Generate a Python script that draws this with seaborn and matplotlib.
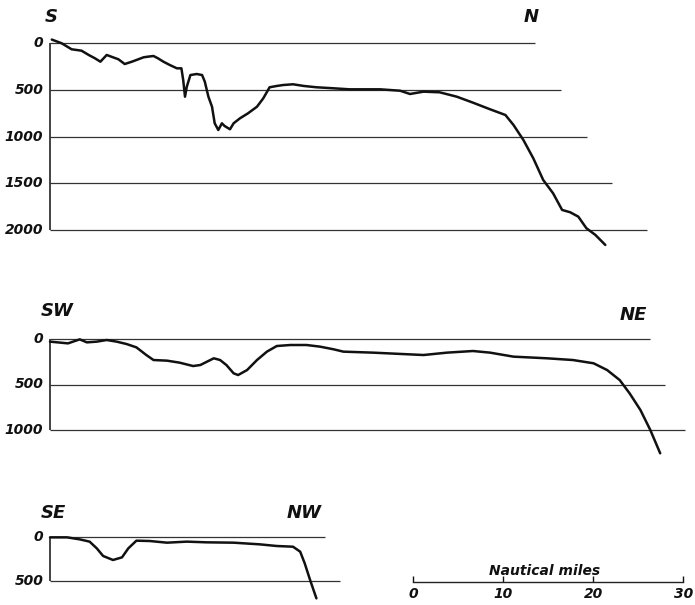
import matplotlib
matplotlib.use("Agg")
import matplotlib.pyplot as plt
import seaborn as sns
import pandas as pd

sns.set_theme(style="white")
plt.rcParams["font.family"] = ["DejaVu Sans"]

# ---------------- data (nautical miles, depth in metres) ----------------
# Profile S - N
p1_miles = [0.2, 1.3, 2.4, 3.5, 4.3, 5.0, 5.6, 6.3, 7.0, 7.6, 8.3, 9.1, 9.6, 10.4, 10.9,
            11.5, 12.0, 12.6, 13.3, 14.1, 14.6, 14.8, 15.0, 15.2, 15.6, 16.3, 16.9, 17.2,
            17.6, 18.0, 18.3, 18.7, 19.1, 19.4, 20.0, 20.4, 21.1, 22.0, 23.0, 23.7, 24.4,
            25.2, 25.9, 27.0, 28.2, 29.6, 31.5, 33.3, 36.7, 38.9, 40.0, 41.5, 43.3, 45.2,
            47.0, 48.9, 50.6, 51.5, 52.6, 53.7, 54.8, 55.9, 56.9, 57.8, 58.7, 59.6, 60.6, 61.7]
p1_depth = [-40, 0, 64, 79, 125, 161, 197, 125, 150, 171, 222, 197, 179, 150, 143,
            136, 161, 197, 232, 268, 268, 393, 572, 465, 340, 329, 340, 411,
            572, 679, 857, 929, 857, 886, 921, 857, 804, 750, 679, 589, 471,
            457, 447, 439, 457, 471, 482, 493, 493, 508, 543, 518, 525, 572,
            636, 707, 768, 875, 1036, 1232, 1464, 1607, 1785, 1810, 1857, 1981, 2053, 2160]
p1_levels = [0, 500, 1000, 1500, 2000]
p1_level_ends = [53.9, 56.8, 59.7, 62.4, 66.3]

# Profile SW - NE
p2_miles = [0, 2.0, 3.3, 4.1, 5.2, 6.3, 7.4, 8.5, 9.6, 10.7, 11.5, 13.0, 14.4, 15.9, 16.7,
            18.2, 18.9, 19.6, 20.4, 20.9, 21.9, 23.0, 24.1, 25.2, 26.7, 28.5, 30.0, 31.5,
            32.6, 35.9, 41.5, 44.1, 47.0, 48.9, 51.5, 55.2, 58.1, 60.4, 61.9, 63.3, 64.4,
            65.6, 66.7, 67.8]
p2_depth = [29, 48, 4, 37, 29, 11, 29, 55, 92, 176, 231, 238, 260, 297, 286,
            212, 231, 286, 377, 396, 341, 231, 139, 77, 66, 66, 84, 113,
            139, 150, 176, 150, 132, 150, 194, 212, 231, 267, 341, 451, 597,
            780, 1000, 1256]
p2_levels = [0, 500, 1000]
p2_level_ends = [66.7, 68.3, 70.6]

# Profile SE - NW
p3_miles = [0, 1.9, 3.3, 4.4, 5.2, 5.9, 7.0, 8.0, 8.7, 9.6, 11.1, 13.0, 15.2, 17.4,
            20.4, 23.3, 25.2, 27.0, 27.8, 28.3, 28.9, 29.6]
p3_depth = [4, 4, 27, 53, 130, 217, 263, 233, 130, 42, 46, 65, 53, 61,
            65, 84, 103, 111, 168, 301, 492, 702]
p3_levels = [0, 500]
p3_level_ends = [30.6, 32.2]

scale_ticks = [0, 10, 20, 30]
scale_label = "Nautical miles"

# ---------------- layout ----------------
W, H = 695, 605
PX_PER_MILE = 9.0
X0_PX = 50.0

fig = plt.figure(figsize=(W / 100, H / 100), dpi=100)
fig.patch.set_facecolor("white")

LBL = dict(fontstyle="italic", fontweight="bold", color="#111111")


def panel_axes(top, bottom, y0, py_per_m):
    ax = fig.add_axes([0, 1 - bottom / H, 1, (bottom - top) / H])
    ax.set_xlim(-X0_PX / PX_PER_MILE, (W - X0_PX) / PX_PER_MILE)
    ax.set_ylim((bottom - y0) / py_per_m, (top - y0) / py_per_m)
    ax.axis("off")
    ax.patch.set_alpha(0)
    return ax


def draw_panel(ax, miles, depth, levels, ends):
    for lv, e in zip(levels, ends):
        ax.hlines(lv, 0, e, color="#333333", linewidth=0.9)
        ax.text(-0.75, lv, str(lv), ha="right", va="center", fontsize=10, **LBL)
    ax.vlines(0, levels[0], levels[-1], color="#222222", linewidth=1.2)
    df = pd.DataFrame({"miles": miles, "depth": depth})
    sns.lineplot(data=df, x="miles", y="depth", ax=ax, color="#111111",
                 linewidth=1.8, sort=False)
    ax.axis("off")


def fig_text(x, y, s, size=13):
    fig.text(x / W, 1 - y / H, s, ha="center", va="center", fontsize=size, **LBL)


ax1 = panel_axes(0, 262, 43.3, 0.09335)
draw_panel(ax1, p1_miles, p1_depth, p1_levels, p1_level_ends)
ax2 = panel_axes(270, 472, 339.0, 0.0910)
draw_panel(ax2, p2_miles, p2_depth, p2_levels, p2_level_ends)
ax3 = panel_axes(478, 605, 537.0, 0.0874)
draw_panel(ax3, p3_miles, p3_depth, p3_levels, p3_level_ends)

fig_text(51.5, 16.5, "S")
fig_text(531, 17.5, "N")
fig_text(57, 311.5, "SW")
fig_text(633, 314.5, "NE")
fig_text(53, 513, "SE")
fig_text(304, 513, "NW")

# scale bar
sax = fig.add_axes([413.3 / W, 1 - 581.7 / H, 270 / W, 20 / H])
sax.patch.set_alpha(0)
sax.set_xlim(scale_ticks[0], scale_ticks[-1])
sax.set_ylim(0, 1)
for s in ["top", "left", "right"]:
    sax.spines[s].set_visible(False)
sax.spines["bottom"].set_color("#222222")
sax.spines["bottom"].set_linewidth(1.0)
sax.set_yticks([])
sax.set_xticks(scale_ticks)
sax.set_xticklabels([str(t) for t in scale_ticks], fontsize=10, **LBL)
sax.tick_params(axis="x", direction="in", length=4, width=1, pad=4, colors="#111111",
                bottom=True)
sax.text(14.6, 0.33, scale_label, ha="center", va="baseline", fontsize=10, **LBL)

fig.savefig("out.png", dpi=100, facecolor="white")
